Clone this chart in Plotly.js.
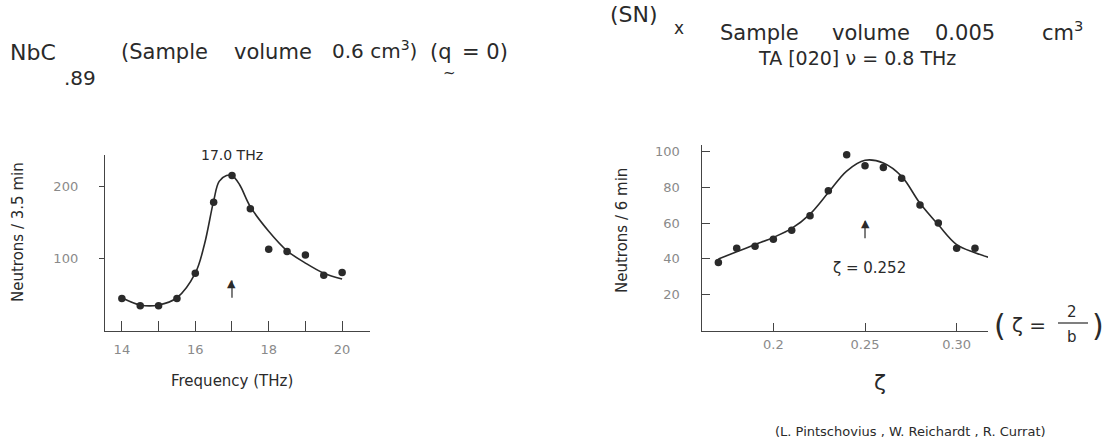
<!DOCTYPE html>
<html><head><meta charset="utf-8">
<script src="https://cdn.plot.ly/plotly-3.0.1.min.js"></script>
<style>html,body{margin:0;padding:0;background:#fff}#c{width:1104px;height:441px}</style>
</head><body><div id="c"></div>
<script>
// NbC.89 phonon scan (left)
const nbcFreq = [14, 14.5, 15, 15.5, 16, 16.5, 17, 17.5, 18, 18.5, 19, 19.5, 20];
const nbcCounts = [45, 35, 35, 45, 80, 178, 215, 169, 113, 110, 105, 77, 81];
const nbcFitFreq = [14, 14.5, 15, 15.5, 16, 16.25, 16.5, 16.65, 16.85, 17.0, 17.2, 17.5, 18, 18.5, 19, 19.5, 20];
const nbcFitCounts = [46, 36, 36, 46, 80, 120, 180, 207, 215, 215, 203, 172, 138, 111, 94, 80, 72];
const nbcXTicks = [14, 16, 18, 20];
const nbcXMinorTicks = [15, 17, 19];
const nbcYTicks = [100, 200];
const nbcPeak = 17.0;
// (SN)x TA[020] scan (right)
const snZeta = [0.17, 0.18, 0.19, 0.20, 0.21, 0.22, 0.23, 0.24, 0.25, 0.26, 0.27, 0.28, 0.29, 0.30, 0.31, 0.32];
const snCounts = [38, 46, 47, 51, 56, 64, 78, 98, 92, 91, 85, 70, 60, 46, 46, 40];
const snFitZeta = [0.17, 0.18, 0.19, 0.20, 0.21, 0.22, 0.23, 0.24, 0.25, 0.26, 0.27, 0.28, 0.29, 0.30, 0.31, 0.32];
const snFitCounts = [40, 44, 48, 52, 57, 65, 77, 89, 95, 93.5, 86, 71, 59, 48, 43.5, 40];
const snXTicks = [0.2, 0.25, 0.3];
const snXTickText = ["0.2", "0.25", "0.30"];
const snYTicks = [20, 40, 60, 80, 100];
const snPeak = 0.25;

const FONT = "DejaVu Sans";
const INK = "#2a2a2a";
const GREY = "#8a8a8a";
const W = 1104, H = 441;
const px = v => v / W, py = v => 1 - v / H;

const traces = [
  {x: nbcFitFreq, y: nbcFitCounts, type: 'scatter', mode: 'lines', line: {shape: 'spline', smoothing: 1, color: INK, width: 1.6}, xaxis: 'x', yaxis: 'y', hoverinfo: 'skip'},
  {x: nbcFreq, y: nbcCounts, type: 'scatter', mode: 'markers', marker: {size: 7.5, color: INK}, xaxis: 'x', yaxis: 'y', cliponaxis: false},
  {x: snFitZeta, y: snFitCounts, type: 'scatter', mode: 'lines', line: {shape: 'spline', smoothing: 1, color: INK, width: 1.6}, xaxis: 'x2', yaxis: 'y2', hoverinfo: 'skip', cliponaxis: false},
  {x: snZeta, y: snCounts, type: 'scatter', mode: 'markers', marker: {size: 7.5, color: INK}, xaxis: 'x2', yaxis: 'y2', cliponaxis: false}
];

const axBase = {showgrid: false, zeroline: false, showline: true, linecolor: '#444', linewidth: 1.2, tickcolor: '#444', tickfont: {family: FONT, size: 13, color: GREY}, fixedrange: true};
const tf = (s) => ({family: FONT, size: s, color: INK});

const ann = [];
function t(text, x, y, size, opts) {
  ann.push(Object.assign({text: text, x: px(x), y: py(y), xref: 'paper', yref: 'paper', showarrow: false, xanchor: 'left', yanchor: 'middle', font: tf(size)}, opts || {}));
}
// Left title
t("NbC", 8, 52, 22);
t(".89", 62, 78, 20);
t("(Sample", 119, 52, 21);
t("volume", 232, 52, 21);
t("0.6 cm<sup>3</sup>)", 330, 50, 20);
t("(q&#8194;= 0)", 428, 52, 21);
t("~", 441, 73, 15);
// Right title
t("(SN)", 608, 14, 22);
t("x", 672, 28, 17);
t("Sample", 718, 33, 21);
t("volume", 830, 33, 21);
t("0.005", 933, 33, 21);
t("cm<sup>3</sup>", 1040, 31, 21);
t("TA [020]&#8196;ν = 0.8 THz", 857, 58, 19, {xanchor: 'center'});
// Axis titles
t("Neutrons / 3.5 min", 18, 232, 15, {xanchor: 'center', textangle: -90});
t("Frequency (THz)", 232, 381, 15, {xanchor: 'center'});
t("Neutrons / 6 min", 622, 231, 15, {xanchor: 'center', textangle: -90});
t("ζ", 880, 382, 22, {xanchor: 'center'});
// zeta definition at axis end
t("(", 992, 325, 30);
t("ζ =", 1010, 325, 20);
t("2", 1072, 312, 15, {xanchor: 'center'});
t("b", 1072, 337, 15, {xanchor: 'center'});
t(")", 1090, 325, 30);
// citation
t("(L. Pintschovius , W. Reichardt , R. Currat)", 910, 431, 13, {xanchor: 'center'});

// in-plot annotations
ann.push({text: "17.0 THz", x: nbcPeak, y: 243, xref: 'x', yref: 'y', showarrow: false, yanchor: 'middle', font: tf(14)});
ann.push({text: "▲", x: nbcPeak, y: 75, xref: 'x', yref: 'y', showarrow: false, yanchor: 'top', yshift: 2, font: tf(11)});
ann.push({text: "ζ = 0.252", x: 0.2522, y: 35, xref: 'x2', yref: 'y2', showarrow: false, yanchor: 'middle', font: tf(15)});
ann.push({text: "▲", x: snPeak, y: 63.5, xref: 'x2', yref: 'y2', showarrow: false, yanchor: 'top', yshift: 2, font: tf(11)});

const layout = {
  width: W, height: H,
  margin: {l: 0, r: 0, t: 0, b: 0},
  paper_bgcolor: '#fff', plot_bgcolor: 'rgba(0,0,0,0)',
  showlegend: false,
  xaxis: Object.assign({}, axBase, {domain: [px(105), px(370)], range: [13.54, 20.76], tickvals: nbcXTicks, ticks: 'inside', ticklen: 10, ticklabelstandoff: 6, anchor: 'y',
    minor: {tickvals: nbcXMinorTicks, ticks: 'inside', ticklen: 10, tickcolor: '#444', showgrid: false}}),
  yaxis: Object.assign({}, axBase, {domain: [py(331), py(155)], range: [0, 243.5], tickvals: nbcYTicks, ticks: 'outside', ticklen: 5, ticklabelstandoff: 18, anchor: 'x'}),
  xaxis2: Object.assign({}, axBase, {domain: [px(701.7), px(988)], range: [0.1609, 0.3171], tickvals: snXTicks, ticktext: snXTickText, ticks: 'inside', ticklen: 8, ticklabelstandoff: 1, anchor: 'y2'}),
  yaxis2: Object.assign({}, axBase, {domain: [py(330.7), py(145)], range: [0, 103.5], tickvals: snYTicks, ticks: 'inside', ticklen: 8, ticklabelstandoff: 18, anchor: 'x2'}),
  annotations: ann,
  shapes: [
    {type: 'line', xref: 'paper', yref: 'paper', x0: px(1058), x1: px(1088), y0: py(323), y1: py(323), line: {color: INK, width: 1.2}},
    {type: 'line', xref: 'x', yref: 'y', x0: nbcPeak, x1: nbcPeak, y0: 70, y1: 46, line: {color: INK, width: 1.2}},
    {type: 'line', xref: 'x2', yref: 'y2', x0: snPeak, x1: snPeak, y0: 61, y1: 51.5, line: {color: INK, width: 1.2}}
  ]
};
Plotly.newPlot('c', traces, layout, {staticPlot: true});
</script></body></html>
